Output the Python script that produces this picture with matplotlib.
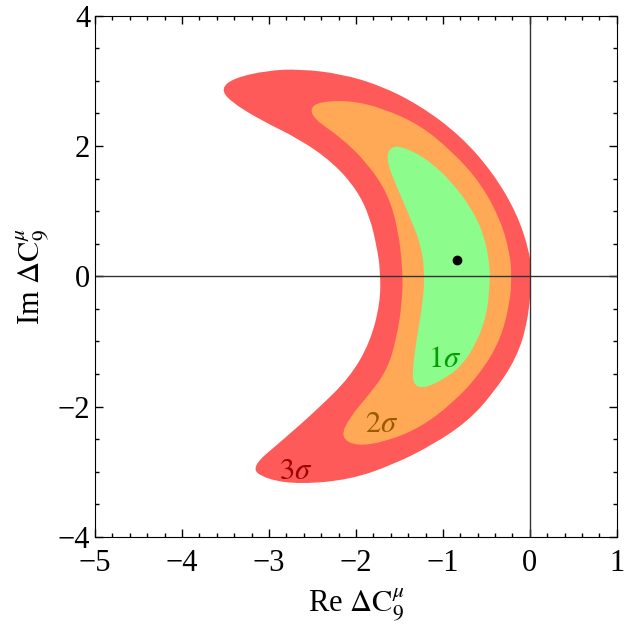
import matplotlib
matplotlib.use("Agg")
import matplotlib.pyplot as plt
from matplotlib.path import Path
from matplotlib.patches import PathPatch
from matplotlib.ticker import MultipleLocator

plt.rcParams['font.family'] = ['Liberation Serif', 'DejaVu Serif']
plt.rcParams['mathtext.fontset'] = 'stix'

# 3 sigma region (outer edge, then inner edge back to the tip)
red_x = [-3.55, -3.41, -3.02, -2.64, -2.18, -1.72, -1.26, -0.80, -0.43, -0.15, 0.00, 0.02,
         -0.02, -0.15, -0.43, -0.72, -1.11, -1.57, -2.07, -2.64, -3.02, -3.22,
         -2.84, -2.45, -2.07, -1.84, -1.72, -1.72, -1.76, -1.84, -1.99, -2.26, -2.64, -3.10, -3.45]
red_y = [2.88, 3.04, 3.16, 3.18, 3.11, 2.93, 2.62, 2.16, 1.60, 0.97, 0.36, -0.01,
         -0.67, -1.25, -1.81, -2.23, -2.58, -2.89, -3.12, -3.19, -3.12, -2.94,
         -2.51, -2.05, -1.55, -1.02, -0.41, 0.10, 0.45, 0.91, 1.33, 1.74, 2.10, 2.40, 2.69]

# 2 sigma region
orange_x = [-2.53, -2.41, -2.07, -1.69, -1.26, -0.89, -0.57, -0.34, -0.23, -0.21,
            -0.23, -0.34, -0.57, -0.89, -1.26, -1.64, -1.99, -2.18,
            -2.07, -1.87, -1.64, -1.53, -1.47, -1.46, -1.52, -1.64, -1.87, -2.18, -2.47]
orange_y = [2.58, 2.68, 2.70, 2.58, 2.32, 1.91, 1.44, 0.87, 0.36, 0.00,
            -0.41, -0.98, -1.49, -1.95, -2.32, -2.53, -2.61, -2.47,
            -2.16, -1.85, -1.44, -0.93, -0.41, 0.10, 0.76, 1.28, 1.74, 2.14, 2.40]

# 1 sigma region
green_x = [-1.63, -1.49, -1.18, -0.89, -0.66, -0.52, -0.46, -0.46, -0.49, -0.61, -0.80,
           -1.03, -1.23, -1.34, -1.35, -1.30, -1.23, -1.21, -1.26, -1.38, -1.53, -1.64]
green_y = [1.96, 2.01, 1.80, 1.44, 1.02, 0.61, 0.15, -0.06, -0.56, -1.02, -1.40,
           -1.61, -1.72, -1.66, -1.44, -0.93, -0.41, 0.10, 0.51, 0.91, 1.37, 1.74]

best_fit = (-0.84, 0.25)

sigma_labels = [r"$1\sigma$", r"$2\sigma$", r"$3\sigma$"]
label_x = [-0.98, -1.70, -2.69]
label_y = [-1.28, -2.27, -2.99]
label_colors = ["#00a000", "#9c5a00", "#9c0000"]


def smooth_region(xs, ys, color):
    # closed quadratic-bezier outline using the read points as control points
    pts = list(zip(xs, ys))
    n = len(pts)
    mid = lambda a, b: ((a[0] + b[0]) / 2, (a[1] + b[1]) / 2)
    verts = [mid(pts[-1], pts[0])]
    codes = [Path.MOVETO]
    for i in range(n):
        verts += [pts[i], mid(pts[i], pts[(i + 1) % n])]
        codes += [Path.CURVE3, Path.CURVE3]
    verts.append(verts[0])
    codes.append(Path.CLOSEPOLY)
    return PathPatch(Path(verts, codes), facecolor=color, lw=0)


fig = plt.figure(figsize=(6.25, 6.28), dpi=100)
ax = fig.add_axes([0.152, 0.145, 0.835, 0.83])

ax.add_patch(smooth_region(red_x, red_y, "#ff5a5a"))
ax.add_patch(smooth_region(orange_x, orange_y, "#ffa855"))
ax.add_patch(smooth_region(green_x, green_y, "#8cfc8c"))

ax.axvline(0, color="#333333", lw=1)
ax.axhline(0, color="#333333", lw=1)
ax.plot(*best_fit, 'o', color="black", ms=6)

for s, lx, ly, c in zip(sigma_labels, label_x, label_y, label_colors):
    ax.text(lx, ly, s, color=c, fontsize=22, ha="center", va="center")

ax.set_xlim(-5, 1)
ax.set_ylim(-4, 4)
ax.xaxis.set_major_locator(MultipleLocator(1))
ax.xaxis.set_minor_locator(MultipleLocator(0.2))
ax.yaxis.set_major_locator(MultipleLocator(2))
ax.yaxis.set_minor_locator(MultipleLocator(0.5))
ax.tick_params(which="both", direction="in", top=True, right=True, labelsize=22, width=1)
ax.tick_params(which="major", length=6)
ax.tick_params(which="minor", length=3)
ax.tick_params(axis="x", pad=9)

ax.set_xlabel(r"Re $\Delta\mathrm{C}_9^{\mu}$", fontsize=22, labelpad=6)
ax.set_ylabel(r"Im $\Delta\mathrm{C}_9^{\mu}$", fontsize=22)

fig.savefig("out.png", dpi=100)
